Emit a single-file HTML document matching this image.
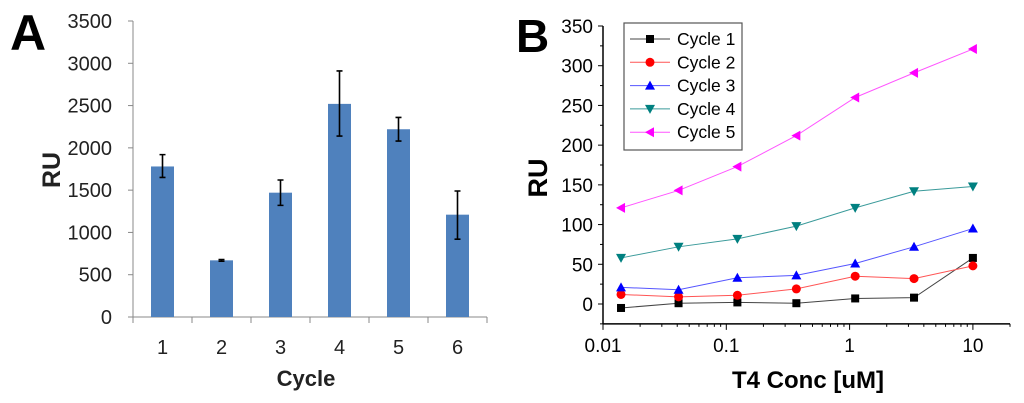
<!DOCTYPE html>
<html><head><meta charset="utf-8"><style>
body{margin:0;background:#fff;}
svg{display:block;font-family:"Liberation Sans",sans-serif;}
</style></head><body>
<svg id="c" width="1024" height="403">
<text x="10" y="50" font-size="50" font-weight="bold">A</text>
<text x="516" y="52" font-size="46" font-weight="bold">B</text>
<g id="ga"></g>
<g id="gb"></g>
</svg>
<script>
const catsA=["1","2","3","4","5","6"];
const valsA=[1780,670,1470,2520,2220,1210];
const errLo=[1650,660,1320,2140,2080,920];
const errHi=[1920,680,1620,2910,2360,1490];
const ticksA=[0,500,1000,1500,2000,2500,3000,3500];
const concB=[0.014,0.041,0.123,0.37,1.11,3.33,10];
const c1=[-5,1,2,1,7,8,58];
const c2=[12,9,11,19,35,32,48];
const c3=[21,18,33,36,51,72,95];
const c4=[58,72,82,98,121,142,148];
const c5=[121,143,173,212,260,291,321];
const seriesNames=["Cycle 1","Cycle 2","Cycle 3","Cycle 4","Cycle 5"];
const ticksBY=[0,50,100,150,200,250,300,350];
const ticksBX=[0.01,0.1,1,10];
const NS="http://www.w3.org/2000/svg";
function mk(p,t,a){const e=document.createElementNS(NS,t);for(const k in a)e.setAttribute(k,a[k]);p.appendChild(e);return e;}
// Panel A
const ga=document.getElementById('ga');
const ax0=133,ax1=487,ay0=317,ay1=21;
const ya=v=>ay0-(v/3500)*(ay0-ay1);
const bw=(ax1-ax0)/catsA.length;
let l=mk(ga,'line',{x1:ax0,y1:ay1,x2:ax0,y2:ay0,stroke:'#888'});

l=mk(ga,'line',{x1:ax0,y1:ay0,x2:ax1,y2:ay0,stroke:'#888'});

ticksA.forEach(t=>{mk(ga,'line',{x1:ax0-5,y1:ya(t),x2:ax0,y2:ya(t),stroke:'#888'});
const tx=mk(ga,'text',{x:ax0-21,y:ya(t)+7,'font-size':20,'text-anchor':'end',fill:'#222'});tx.textContent=t;
});
for(let i=0;i<=catsA.length;i++)mk(ga,'line',{x1:ax0+i*bw,y1:ay0,x2:ax0+i*bw,y2:ay0+6,stroke:'#888'});
catsA.forEach((c,i)=>{const cx=ax0+(i+0.5)*bw;
const r=mk(ga,'rect',{x:cx-11.5,y:ya(valsA[i]),width:23,height:ay0-ya(valsA[i]),fill:'#4f81bd'});

const e=mk(ga,'path',{d:`M${cx} ${ya(errLo[i])}V${ya(errHi[i])}M${cx-3} ${ya(errLo[i])}h6M${cx-3} ${ya(errHi[i])}h6`,stroke:'#000','stroke-width':1.6,fill:'none'});

const t=mk(ga,'text',{x:cx,y:354,'font-size':20,'text-anchor':'middle',fill:'#222'});t.textContent=c;
});
let t=mk(ga,'text',{x:306,y:386,'font-size':22,'font-weight':'bold','text-anchor':'middle',fill:'#222'});t.textContent='Cycle';

t=mk(ga,'text',{x:0,y:0,'font-size':25,'font-weight':'bold','text-anchor':'middle',fill:'#222',transform:'translate(60,170) rotate(-90)'});t.textContent='RU';

// Panel B
const gb=document.getElementById('gb');
const bx0=603,dec=123.3,by0=304,ppu=278/350;
const xb=v=>bx0+Math.log10(v/0.01)*dec;
const yb=v=>by0-v*ppu;
l=mk(gb,'line',{x1:bx0,y1:yb(350),x2:bx0,y2:yb(-25),stroke:'#000','stroke-width':1.5});

l=mk(gb,'line',{x1:bx0,y1:yb(-25),x2:1010,y2:yb(-25),stroke:'#000','stroke-width':1.5});

for(let v=-25;v<=350;v+=25){const maj=v%50===0;mk(gb,'line',{x1:bx0-(maj?5:3),y1:yb(v),x2:bx0,y2:yb(v),stroke:'#000'});}
ticksBY.forEach(v=>{const tx=mk(gb,'text',{x:bx0-10,y:yb(v)+7,'font-size':19,'text-anchor':'end',fill:'#000'});tx.textContent=v;
});
for(let d=0.01;d<20;d*=10){for(let m=1;m<10;m++){const v=d*m;if(v>20)break;mk(gb,'line',{x1:xb(v),y1:yb(-25),x2:xb(v),y2:yb(-25)+(m===1?6:3),stroke:'#000'});}}
ticksBX.forEach(v=>{const tx=mk(gb,'text',{x:xb(v),y:352,'font-size':19,'text-anchor':'middle',fill:'#000'});tx.textContent=String(v);
});
t=mk(gb,'text',{x:808,y:388,'font-size':24,'font-weight':'bold','text-anchor':'middle',fill:'#000'});t.textContent='T4 Conc [uM]';

t=mk(gb,'text',{x:0,y:0,'font-size':27,'font-weight':'bold','text-anchor':'middle',fill:'#000',transform:'translate(547,178) rotate(-90)'});t.textContent='RU';

const colors=['#000000','#ff0000','#0000ff','#008080','#ff00ff'];
const lines=['#444','#ff5555','#5555ff','#3a9a9a','#ff55ff'];
function marker(p,k,x,y){const c=colors[k];
if(k===0)return mk(p,'rect',{x:x-4,y:y-4,width:8,height:8,fill:c});
if(k===1)return mk(p,'circle',{cx:x,cy:y,r:4.5,fill:c});
if(k===2)return mk(p,'path',{d:`M${x} ${y-5}L${x+5} ${y+4}L${x-5} ${y+4}Z`,fill:c});
if(k===3)return mk(p,'path',{d:`M${x} ${y+5}L${x+5} ${y-4}L${x-5} ${y-4}Z`,fill:c});
return mk(p,'path',{d:`M${x-5} ${y}L${x+4} ${y-5}L${x+4} ${y+5}Z`,fill:c});}
[c1,c2,c3,c4,c5].forEach((s,k)=>{
const pl=mk(gb,'polyline',{points:s.map((v,i)=>xb(concB[i])+','+yb(v)).join(' '),fill:'none',stroke:lines[k],'stroke-width':1});

s.forEach((v,i)=>{const m=marker(gb,k,xb(concB[i]),yb(v));
});});
const lg=mk(gb,'g',{});

mk(lg,'rect',{x:624,y:23,width:118,height:127,fill:'#fff',stroke:'#555','stroke-width':1.2});
seriesNames.forEach((n,k)=>{const y=39+k*23.3;
const e=mk(lg,'g',{});
mk(e,'line',{x1:630,y1:y,x2:670,y2:y,stroke:lines[k]});marker(e,k,650,y);
const tx=mk(e,'text',{x:677,y:y+6,'font-size':17.5,fill:'#000'});tx.textContent=n;});
</script>
</body></html>
